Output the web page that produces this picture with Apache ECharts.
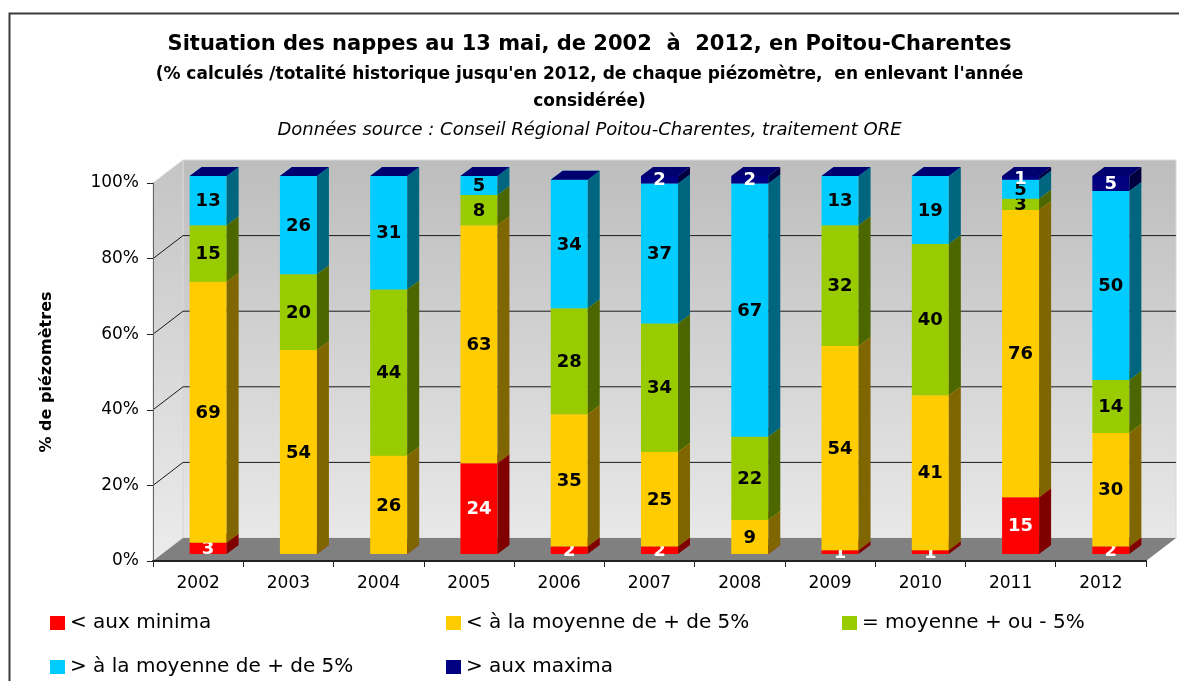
<!DOCTYPE html>
<html><head><meta charset="utf-8">
<script src="https://cdn.jsdelivr.net/npm/echarts@6/dist/echarts.min.js"></script>
<style>html,body{margin:0;padding:0;background:#fff}#c{width:1179px;height:681px}</style>
</head><body><div id="c"></div>
<script>
// ---- data ----
const years = ['2002','2003','2004','2005','2006','2007','2008','2009','2010','2011','2012'];
const sMinima = [3, 0, 0, 24, 2, 2, 0, 1, 1, 15, 2];
const sBelow  = [69, 54, 26, 63, 35, 25, 9, 54, 41, 76, 30];
const sMean   = [15, 20, 44, 8, 28, 34, 22, 32, 40, 3, 14];
const sAbove  = [13, 26, 31, 5, 34, 37, 67, 13, 19, 5, 50];
const sMaxima = [0, 0, 0, 0, 0, 2, 2, 0, 0, 1, 5];
const seriesNames = ['< aux minima', '< à la moyenne de + de 5%', '= moyenne + ou - 5%', '> à la moyenne de + de 5%', '> aux maxima'];
const yTicks = [0, 20, 40, 60, 80, 100];

// ---- styles ----
const FONT = '"DejaVu Sans", "Liberation Sans", sans-serif';
const palette = [
  {front:'#FF0000', side:'#800000', top:'#C00000', label:'#FFFFFF'},
  {front:'#FFCC00', side:'#806600', top:'#E0B400', label:'#000000'},
  {front:'#99CC00', side:'#4C6600', top:'#86B300', label:'#000000'},
  {front:'#00CCFF', side:'#006680', top:'#00B0E0', label:'#000000'},
  {front:'#000080', side:'#000040', top:'#000070', label:'#FFFFFF'}
];
const FX = 10, FY = -7;     // bar front-face offset (depth position)
const DX = 12, DY = -9;     // bar depth
const WX = 30, WY = -23;    // wall depth

const allSeries = [sMinima, sBelow, sMean, sAbove, sMaxima];

function buildData(k) {
  return years.map((y, i) => {
    let base = 0;
    for (let j = 0; j < k; j++) base += allSeries[j][i];
    return [i, base, allSeries[k][i]];
  });
}

function barRender(k) {
  const col = palette[k];
  return function (params, api) {
    const i = api.value(0), base = api.value(1), val = api.value(2);
    const topV = Math.min(base + val, 100);
    const baseV = Math.min(base, 100);
    const band = api.size([1, 0])[0];
    const BW = band * 0.41;
    const p0 = api.coord([i, baseV]);
    const p1 = api.coord([i, topV]);
    const xL = p0[0] + FX - BW / 2, xR = xL + BW;
    const yB = p0[1] + FY, yT = p1[1] + FY;
    const children = [];
    if (topV > baseV) {
      children.push({type:'rect', shape:{x:xL, y:yT, width:BW, height:yB - yT}, style:{fill:col.front}});
      children.push({type:'polygon', shape:{points:[[xR, yB], [xR + DX, yB + DY], [xR + DX, yT + DY], [xR, yT]]}, style:{fill:col.side}});
    }
    children.push({type:'polygon', shape:{points:[[xL, yT], [xR, yT], [xR + DX, yT + DY], [xL + DX, yT + DY]]}, style:{fill:col.top}});
    if (val > 0) {
      children.push({type:'text', style:{text:String(val), x:(xL + xR) / 2, y:(yT + yB) / 2 + 1,
        textAlign:'center', textVerticalAlign:'middle', fill:col.label, font:'bold 18px ' + FONT}});
    }
    return {type:'group', children};
  };
}

function wallRender(params, api) {
  const n = years.length;
  const band = api.size([1, 0])[0];
  const x0 = api.coord([0, 0])[0] - band / 2;
  const x1 = api.coord([n - 1, 0])[0] + band / 2;
  const y0 = api.coord([0, 0])[1];
  const y100 = api.coord([0, 100])[1];
  const grad = new echarts.graphic.LinearGradient(0, 0, 0, 1, [{offset:0, color:'#bdbdbd'}, {offset:1, color:'#e8e8e8'}]);
  const grad2 = new echarts.graphic.LinearGradient(0, 0, 0, 1, [{offset:0, color:'#c4c4c4'}, {offset:1, color:'#ececec'}]);
  const ch = [];
  ch.push({type:'rect', shape:{x:x0 + WX, y:y100 + WY, width:x1 - x0, height:y0 - y100}, style:{fill:grad, stroke:'#d8d8d8', lineWidth:1}});
  ch.push({type:'polygon', shape:{points:[[x0, y100], [x0 + WX, y100 + WY], [x0 + WX, y0 + WY], [x0, y0]]}, style:{fill:grad2, stroke:'#d8d8d8', lineWidth:1}});
  ch.push({type:'polygon', shape:{points:[[x0, y0], [x1, y0], [x1 + WX, y0 + WY], [x0 + WX, y0 + WY]]}, style:{fill:'#808080'}});
  yTicks.forEach(t => {
    if (t <= 0 || t >= 100) return;
    const y = api.coord([0, t])[1];
    ch.push({type:'line', shape:{x1:x0 + WX, y1:y + WY, x2:x1 + WX, y2:y + WY}, style:{stroke:'#1a1a1a', lineWidth:1}});
    ch.push({type:'line', shape:{x1:x0, y1:y, x2:x0 + WX, y2:y + WY}, style:{stroke:'#1a1a1a', lineWidth:1}});
  });
  return {type:'group', children:ch};
}

const chart = echarts.init(document.getElementById('c'), null, {renderer:'canvas'});

const series = [{
  type:'custom', name:'wall', silent:true, z:1, data:[[0]], renderItem:wallRender, tooltip:{show:false}
}];
allSeries.forEach((arr, k) => {
  series.push({
    type:'custom', name:seriesNames[k], z:3 + k, itemStyle:{color:palette[k].front},
    data:buildData(k), renderItem:barRender(k), encode:{x:0, y:[1, 2]}
  });
});

const legendText = {fontFamily:FONT, fontSize:20, color:'#000', width:300, lineHeight:22};
const legendBase = {left:50, itemWidth:15, itemHeight:14, itemGap:76, padding:0, textStyle:legendText, selectedMode:false};
chart.setOption({
  animation:false,
  backgroundColor:'#fff',
  title:[
    {text:'Situation des nappes au 13 mai, de 2002  à  2012, en Poitou-Charentes', left:'center', top:33, padding:0,
     textStyle:{fontFamily:FONT, fontSize:21, fontWeight:'bold', color:'#000', lineHeight:24}},
    {text:"(% calculés /totalité historique jusqu'en 2012, de chaque piézomètre,  en enlevant l'année", left:'center', top:65, padding:0,
     textStyle:{fontFamily:FONT, fontSize:17, fontWeight:'bold', color:'#000', lineHeight:20}},
    {text:'considérée)', left:'center', top:92, padding:0,
     textStyle:{fontFamily:FONT, fontSize:17, fontWeight:'bold', color:'#000', lineHeight:20}},
    {text:'Données source : Conseil Régional Poitou-Charentes, traitement ORE', left:'center', top:120, padding:0,
     textStyle:{fontFamily:FONT, fontSize:18, fontStyle:'italic', fontWeight:'normal', color:'#000', lineHeight:20}}
  ],
  graphic:[{type:'rect', left:7, top:11, shape:{width:1400, height:900}, style:{fill:'none', stroke:'#3a3a3a', lineWidth:2}, silent:true}],
  legend:[
    Object.assign({data:seriesNames.slice(0, 3).map(n => ({name:n, icon:'rect'})), top:612}, legendBase),
    Object.assign({data:seriesNames.slice(3).map(n => ({name:n, icon:'rect'})), top:656}, legendBase)
  ],
  grid:{left:153, right:33, top:183, bottom:120},
  xAxis:{type:'category', data:years, z:10,
    axisLine:{lineStyle:{color:'#222', width:2}},
    axisTick:{show:true, length:6, lineStyle:{color:'#222'}},
    axisLabel:{fontFamily:FONT, fontSize:17, color:'#000', margin:14}},
  yAxis:{type:'value', min:0, max:100, interval:20, z:10,
    name:'% de piézomètres', nameLocation:'middle', nameGap:98, nameRotate:90,
    nameTextStyle:{fontFamily:FONT, fontSize:16, fontWeight:'bold', color:'#000'},
    axisLine:{show:true, lineStyle:{color:'#666', width:1}},
    axisTick:{show:true, length:6, lineStyle:{color:'#222'}},
    axisLabel:{formatter:'{value}%', fontFamily:FONT, fontSize:17, color:'#000', margin:14},
    splitLine:{show:false}},
  series
});
</script></body></html>
